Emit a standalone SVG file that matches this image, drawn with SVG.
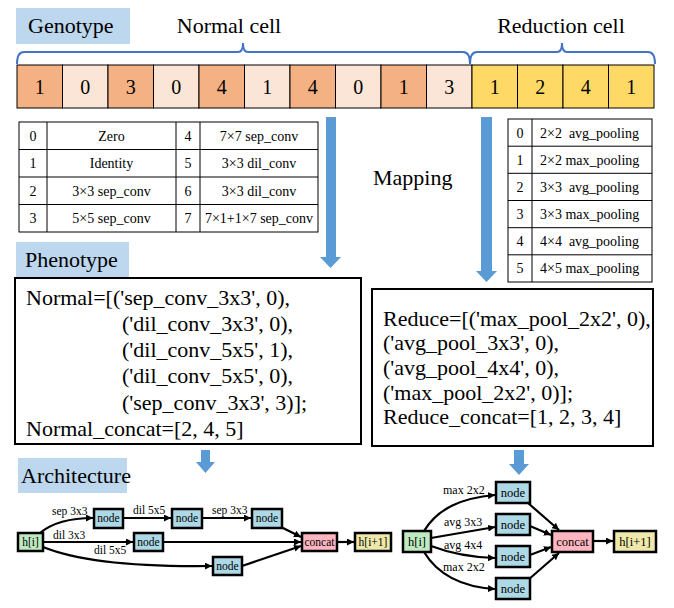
<svg xmlns="http://www.w3.org/2000/svg" width="674" height="608" viewBox="0 0 674 608" font-family="'Liberation Serif', 'Times New Roman', Tinos, 'DejaVu Serif', serif">
<defs>
<marker id="ah" viewBox="0 0 10 10" refX="10" refY="5" markerWidth="7" markerHeight="7" markerUnits="userSpaceOnUse" orient="auto">
<path d="M0,0 L10,5 L0,10 z" fill="#000"/>
</marker>
<style>
text{font-family:'Liberation Serif','Times New Roman',Tinos,'DejaVu Serif',serif;fill:#000}
.hd{font-size:22px}
.cell{font-size:20px;text-anchor:middle}
.tb{font-size:14px;text-anchor:middle}
.tb2{font-size:14px;white-space:pre}
.code{font-size:22px}
.lab{fill:#bdd7ee}
.g{fill:none;stroke:#000;stroke-width:1}
.dk{fill:#f4b183;stroke:#000;stroke-width:1}
.lt{fill:#fbe5d6;stroke:#000;stroke-width:1}
.ye{fill:#ffd966;stroke:#000;stroke-width:1}
.brace{fill:none;stroke:#4472c4;stroke-width:2}
.blue{fill:#5b9bd5}
.box{fill:#fff;stroke:#000;stroke-width:2}
.nd{stroke:#000;stroke-width:2.5}
.nb{fill:#add8e6}
.ng{fill:#bfeabf}
.np{fill:#ffb6c1}
.ny{fill:#eee8aa}
.nt{font-size:12.5px;text-anchor:middle}
.nts{font-size:11.5px;text-anchor:middle}
.el{font-size:12px}
.els{font-size:11.5px}
.e{fill:none;stroke:#000;stroke-width:2.2;marker-end:url(#ah)}
</style>
</defs>
<rect width="674" height="608" fill="#fff"/>

<!-- Genotype section -->
<g id="genotype-label">
<rect class="lab" x="16" y="8" width="114" height="36"/>
<text class="hd" x="28" y="33">Genotype</text>
</g>
<g id="normal-cell-label">
<text class="hd" x="229" y="33" text-anchor="middle">Normal cell</text>
<path class="brace" d="M17,64 Q17,52 24,52 L238,52 Q243,52 243,43 Q243,52 248,52 L463,52 Q470,52 470,64"/>
</g>
<g id="reduction-cell-label">
<text class="hd" x="561" y="33" text-anchor="middle">Reduction cell</text>
<path class="brace" d="M470,64 Q470,52 477,52 L557,52 Q562,52 562,43 Q562,52 567,52 L648,52 Q655,52 655,64"/>
</g>
<g id="genotype-cells">
<rect class="dk" x="17" y="65" width="45.5" height="43"/>
<rect class="lt" x="62.5" y="65" width="45.5" height="43"/>
<rect class="dk" x="108" y="65" width="45.5" height="43"/>
<rect class="lt" x="153.5" y="65" width="45.5" height="43"/>
<rect class="dk" x="199" y="65" width="45.5" height="43"/>
<rect class="lt" x="244.5" y="65" width="45.5" height="43"/>
<rect class="dk" x="290" y="65" width="45.5" height="43"/>
<rect class="lt" x="335.5" y="65" width="45.5" height="43"/>
<rect class="dk" x="381" y="65" width="45.5" height="43"/>
<rect class="lt" x="426.5" y="65" width="45.5" height="43"/>
<rect class="ye" x="472" y="65" width="45.5" height="43"/>
<rect class="ye" x="517.5" y="65" width="45.5" height="43"/>
<rect class="ye" x="563" y="65" width="45.5" height="43"/>
<rect class="ye" x="608.5" y="65" width="45.5" height="43"/>
<text class="cell" x="39.75" y="94">1</text>
<text class="cell" x="85.25" y="94">0</text>
<text class="cell" x="130.75" y="94">3</text>
<text class="cell" x="176.25" y="94">0</text>
<text class="cell" x="221.75" y="94">4</text>
<text class="cell" x="267.25" y="94">1</text>
<text class="cell" x="312.75" y="94">4</text>
<text class="cell" x="358.25" y="94">0</text>
<text class="cell" x="403.75" y="94">1</text>
<text class="cell" x="449.25" y="94">3</text>
<text class="cell" x="494.75" y="94">1</text>
<text class="cell" x="540.25" y="94">2</text>
<text class="cell" x="585.75" y="94">4</text>
<text class="cell" x="631.25" y="94">1</text>
</g>

<!-- Operation tables -->
<g id="normal-op-table">
<rect class="g" x="19" y="122" width="299" height="110"/>
<line class="g" x1="19" y1="149.5" x2="318" y2="149.5"/>
<line class="g" x1="19" y1="177" x2="318" y2="177"/>
<line class="g" x1="19" y1="204.5" x2="318" y2="204.5"/>
<line class="g" x1="47" y1="122" x2="47" y2="232"/>
<line class="g" x1="176" y1="122" x2="176" y2="232"/>
<line class="g" x1="200" y1="122" x2="200" y2="232"/>
<text class="tb" x="33" y="140.5">0</text>
<text class="tb" x="111.5" y="140.5">Zero</text>
<text class="tb" x="188" y="140.5">4</text>
<text class="tb" x="259" y="140.5">7×7 sep_conv</text>
<text class="tb" x="33" y="168">1</text>
<text class="tb" x="111.5" y="168">Identity</text>
<text class="tb" x="188" y="168">5</text>
<text class="tb" x="259" y="168">3×3 dil_conv</text>
<text class="tb" x="33" y="195.5">2</text>
<text class="tb" x="111.5" y="195.5">3×3 sep_conv</text>
<text class="tb" x="188" y="195.5">6</text>
<text class="tb" x="259" y="195.5">3×3 dil_conv</text>
<text class="tb" x="33" y="223">3</text>
<text class="tb" x="111.5" y="223">5×5 sep_conv</text>
<text class="tb" x="188" y="223">7</text>
<text class="tb" x="259" y="223">7×1+1×7 sep_conv</text>
</g>
<g id="reduce-op-table">
<rect class="g" x="508" y="119" width="144" height="163"/>
<line class="g" x1="508" y1="146.2" x2="652" y2="146.2"/>
<line class="g" x1="508" y1="173.3" x2="652" y2="173.3"/>
<line class="g" x1="508" y1="200.5" x2="652" y2="200.5"/>
<line class="g" x1="508" y1="227.7" x2="652" y2="227.7"/>
<line class="g" x1="508" y1="254.8" x2="652" y2="254.8"/>
<line class="g" x1="532" y1="119" x2="532" y2="282"/>
<text class="tb" x="520" y="137.5">0</text>
<text class="tb" x="520" y="164.5">1</text>
<text class="tb" x="520" y="191.5">2</text>
<text class="tb" x="520" y="219">3</text>
<text class="tb" x="520" y="246">4</text>
<text class="tb" x="520" y="273">5</text>
<text class="tb2" x="540" y="137.5">2×2  avg_pooling</text>
<text class="tb2" x="540" y="164.5">2×2 max_pooling</text>
<text class="tb2" x="540" y="191.5">3×3  avg_pooling</text>
<text class="tb2" x="540" y="219">3×3 max_pooling</text>
<text class="tb2" x="540" y="246">4×4  avg_pooling</text>
<text class="tb2" x="540" y="273">4×5 max_pooling</text>
</g>

<!-- Mapping arrows -->
<g id="mapping">
<polygon class="blue" points="326,117 336,117 336,257 341,257 330.5,268 320,257 326,257"/>
<polygon class="blue" points="481,117 492,117 492,271 497,271 486.5,282 476,271 481,271"/>
<text class="hd" x="373" y="185">Mapping</text>
</g>

<!-- Phenotype -->
<g id="phenotype-label">
<rect class="lab" x="16" y="242" width="113" height="35"/>
<text class="hd" x="25" y="267">Phenotype</text>
</g>
<g id="normal-phenotype">
<rect class="box" x="15" y="278" width="346" height="166"/>
<text class="code" x="26" y="305">Normal=[('sep_conv_3x3', 0),</text>
<text class="code" x="122" y="331">('dil_conv_3x3', 0),</text>
<text class="code" x="122" y="357">('dil_conv_5x5', 1),</text>
<text class="code" x="122" y="383">('dil_conv_5x5', 0),</text>
<text class="code" x="122" y="410">('sep_conv_3x3', 3)];</text>
<text class="code" x="26" y="436">Normal_concat=[2, 4, 5]</text>
</g>
<g id="reduce-phenotype">
<rect class="box" x="372" y="289" width="281" height="157"/>
<text class="code" x="383" y="326">Reduce=[('max_pool_2x2', 0),</text>
<text class="code" x="383" y="350">('avg_pool_3x3', 0),</text>
<text class="code" x="383" y="375">('avg_pool_4x4', 0),</text>
<text class="code" x="383" y="400">('max_pool_2x2', 0)];</text>
<text class="code" x="383" y="424">Reduce_concat=[1, 2, 3, 4]</text>
</g>

<!-- Small arrows -->
<g id="small-arrows">
<polygon class="blue" points="201,450 210,450 210,462 215,462 205.5,473 196,462 201,462"/>
<polygon class="blue" points="514,450 524,450 524,464 529,464 519,475 509,464 514,464"/>
</g>

<!-- Architecture -->
<g id="architecture-label">
<rect class="lab" x="18" y="458" width="109" height="35"/>
<text class="hd" x="21" y="483">Architecture</text>
</g>

<g id="connectors">
<path class="e" d="M40,533 Q58,518 93,518"/>
<path class="e" d="M123,518 L171,518"/>
<path class="e" d="M202,518 L251,518"/>
<path class="e" d="M43,542 L133,542"/>
<path class="e" d="M43,547 C80,562 140,567 212,566"/>
<path class="e" d="M281,527 L301,537"/>
<path class="e" d="M163,542 L301,542"/>
<path class="e" d="M242,566 L301,546"/>
<path class="e" d="M337,542 L354,542"/>
<path class="e" d="M424,531 C438,508 462,498 495,495"/>
<path class="e" d="M431,538 L495,527"/>
<path class="e" d="M431,546 Q460,557 495,558"/>
<path class="e" d="M424,552 C438,575 462,587 495,589"/>
<path class="e" d="M528,503 L559,530"/>
<path class="e" d="M530,526 L551,535"/>
<path class="e" d="M530,555 L551,547"/>
<path class="e" d="M528,580 L559,553"/>
<path class="e" d="M593,541 L613,541"/>
<text class="els" x="52" y="515">sep 3x3</text>
<text class="els" x="133" y="514">dil 5x5</text>
<text class="els" x="212" y="514">sep 3x3</text>
<text class="els" x="53" y="539">dil 3x3</text>
<text class="els" x="94" y="554">dil 5x5</text>
<text class="el" x="443" y="494">max 2x2</text>
<text class="el" x="444" y="526">avg 3x3</text>
<text class="el" x="444" y="549">avg 4x4</text>
<text class="el" x="443" y="571">max 2x2</text>
</g>

<g id="n-hi-normal"><rect class="nd ng" x="18" y="533" width="25" height="18"/><text class="nts" x="30.5" y="546">h[i]</text></g>
<g id="n-node1-normal"><rect class="nd nb" x="94" y="509" width="29" height="19"/><text class="nts" x="108.5" y="522">node</text></g>
<g id="n-node2-normal"><rect class="nd nb" x="172" y="509" width="30" height="19"/><text class="nts" x="187" y="522">node</text></g>
<g id="n-node3-normal"><rect class="nd nb" x="252" y="509" width="30" height="19"/><text class="nts" x="267" y="522">node</text></g>
<g id="n-node4-normal"><rect class="nd nb" x="134" y="533" width="29" height="18"/><text class="nts" x="148.5" y="546">node</text></g>
<g id="n-node5-normal"><rect class="nd nb" x="213" y="557" width="29" height="18"/><text class="nts" x="227.5" y="570">node</text></g>
<g id="n-concat-normal"><rect class="nd np" x="302" y="533" width="35" height="18"/><text class="nts" x="319.5" y="546">concat</text></g>
<g id="n-hnext-normal"><rect class="nd ny" x="355" y="533" width="36" height="18"/><text class="nts" x="373" y="546">h[i+1]</text></g>

<g id="n-hi-reduce"><rect class="nd ng" x="403" y="531" width="28" height="21"/><text class="nt" x="417" y="546">h[i]</text></g>
<g id="n-node1-reduce"><rect class="nd nb" x="496" y="482" width="34" height="21"/><text class="nt" x="513" y="497">node</text></g>
<g id="n-node2-reduce"><rect class="nd nb" x="496" y="514" width="34" height="21"/><text class="nt" x="513" y="529">node</text></g>
<g id="n-node3-reduce"><rect class="nd nb" x="496" y="546" width="34" height="21"/><text class="nt" x="513" y="561">node</text></g>
<g id="n-node4-reduce"><rect class="nd nb" x="496" y="578" width="34" height="21"/><text class="nt" x="513" y="593">node</text></g>
<g id="n-concat-reduce"><rect class="nd np" x="552" y="531" width="41" height="21"/><text class="nt" x="572.5" y="546">concat</text></g>
<g id="n-hnext-reduce"><rect class="nd ny" x="614" y="531" width="42" height="21"/><text class="nt" x="635" y="546">h[i+1]</text></g>
</svg>
